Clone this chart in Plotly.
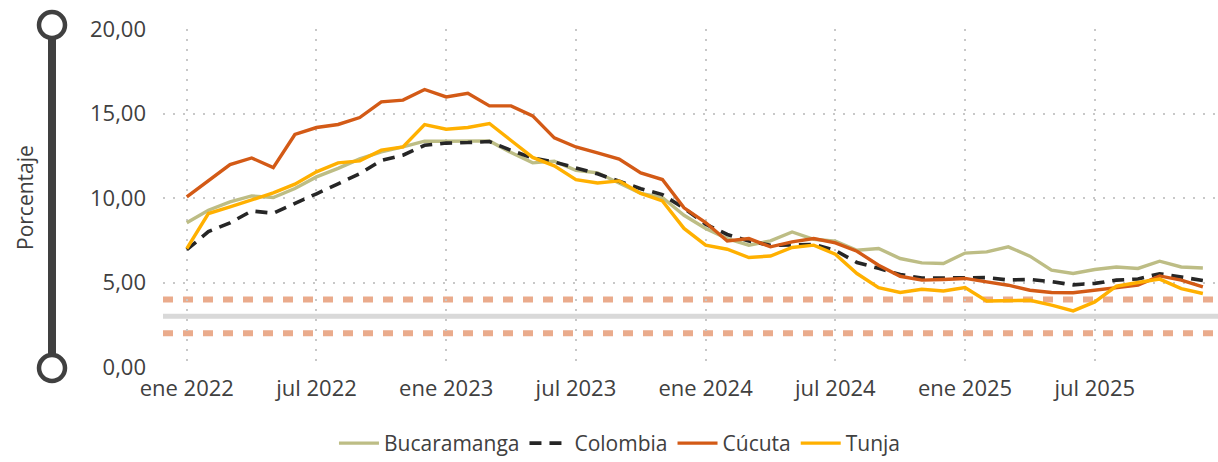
import plotly.graph_objects as go

# Inflación anual (%), mensual ene 2022 - dic 2025
meses = [
    "ene 2022", "feb 2022", "mar 2022", "abr 2022", "may 2022", "jun 2022",
    "jul 2022", "ago 2022", "sep 2022", "oct 2022", "nov 2022", "dic 2022",
    "ene 2023", "feb 2023", "mar 2023", "abr 2023", "may 2023", "jun 2023",
    "jul 2023", "ago 2023", "sep 2023", "oct 2023", "nov 2023", "dic 2023",
    "ene 2024", "feb 2024", "mar 2024", "abr 2024", "may 2024", "jun 2024",
    "jul 2024", "ago 2024", "sep 2024", "oct 2024", "nov 2024", "dic 2024",
    "ene 2025", "feb 2025", "mar 2025", "abr 2025", "may 2025", "jun 2025",
    "jul 2025", "ago 2025", "sep 2025", "oct 2025", "nov 2025", "dic 2025",
]

bucaramanga = [8.53, 9.28, 9.77, 10.12, 10.03, 10.56, 11.25, 11.75, 12.31, 12.73, 13.02, 13.36,
               13.36, 13.38, 13.38, 12.69, 12.08, 12.18, 11.64, 11.49, 10.86, 10.27, 10.03, 8.98,
               8.20, 7.60, 7.21, 7.46, 7.99, 7.56, 7.44, 6.91, 7.01, 6.42, 6.16, 6.12,
               6.74, 6.81, 7.11, 6.56, 5.73, 5.53, 5.77, 5.92, 5.83, 6.26, 5.92, 5.86]

colombia = [6.94, 8.01, 8.53, 9.23, 9.10, 9.70, 10.25, 10.84, 11.44, 12.22, 12.53, 13.12,
            13.25, 13.28, 13.34, 12.82, 12.36, 12.13, 11.78, 11.43, 10.99, 10.55, 10.20, 9.40,
            8.45, 7.84, 7.45, 7.20, 7.22, 7.25, 6.90, 6.18, 5.84, 5.47, 5.26, 5.25,
            5.28, 5.29, 5.15, 5.18, 5.05, 4.86, 4.95, 5.14, 5.21, 5.52, 5.33, 5.12]

cucuta = [10.07, 11.05, 11.98, 12.37, 11.80, 13.76, 14.17, 14.35, 14.76, 15.69, 15.79, 16.42,
          15.98, 16.20, 15.45, 15.45, 14.86, 13.56, 13.02, 12.67, 12.30, 11.49, 11.09, 9.42,
          8.55, 7.46, 7.60, 7.11, 7.40, 7.60, 7.34, 6.85, 6.02, 5.37, 5.14, 5.18,
          5.24, 5.04, 4.84, 4.54, 4.41, 4.39, 4.54, 4.74, 4.84, 5.39, 5.14, 4.74]

tunja = [7.01, 9.08, 9.47, 9.91, 10.30, 10.82, 11.55, 12.08, 12.20, 12.83, 13.02, 14.35,
         14.07, 14.17, 14.41, 13.40, 12.40, 11.90, 11.09, 10.89, 11.01, 10.27, 9.83, 8.20,
         7.21, 6.97, 6.48, 6.57, 7.07, 7.21, 6.67, 5.53, 4.70, 4.41, 4.60, 4.50,
         4.70, 3.91, 3.95, 3.95, 3.66, 3.32, 3.85, 4.78, 5.00, 5.20, 4.64, 4.35]

# Meta de inflación y su rango de tolerancia
meta = 3
rango_meta = [2, 4]

etiquetas_x = ["ene 2022", "jul 2022", "ene 2023", "jul 2023",
               "ene 2024", "jul 2024", "ene 2025", "jul 2025"]
valores_y = [0, 5, 10, 15, 20]

x = list(range(len(meses)))
ticks_x = [meses.index(m) for m in etiquetas_x]

TEXTO = "#404040"
FUENTE = "Open Sans"

series = [
    ("Bucaramanga", bucaramanga, dict(color="#BDBD85", width=3.4)),
    ("Colombia", colombia, dict(color="#262626", width=3.6, dash="12px,8px")),
    ("Cúcuta", cucuta, dict(color="#D35A16", width=3.4)),
    ("Tunja", tunja, dict(color="#FFB000", width=3.4)),
]

fig = go.Figure()
for nombre, valores, linea in series:
    fig.add_trace(go.Scatter(
        x=x, y=valores, name=nombre, mode="lines", line=linea,
        customdata=meses, hovertemplate="%{customdata}: %{y:.2f}<extra>" + nombre + "</extra>",
    ))

# Líneas de referencia (meta y rango)
for v in rango_meta:
    fig.add_shape(type="line", xref="paper", x0=0, x1=1, yref="y", y0=v, y1=v,
                  line=dict(color="#EAAB8C", width=6, dash="10px,10px"), layer="between")
fig.add_shape(type="line", xref="paper", x0=0, x1=1, yref="y", y0=meta, y1=meta,
              line=dict(color="#D9D9D9", width=5), layer="between")

# Barra decorativa del eje vertical (coordenadas de papel para no recortarla)
fig.add_shape(type="line", xref="paper", xsizemode="pixel", xanchor=0, x0=-111, x1=-111,
              yref="paper", y0=0, y1=1.01, line=dict(color=TEXTO, width=8), layer="above")
for yc, dy in [(1, 4), (0, -1)]:
    fig.add_shape(type="circle", xref="paper", xsizemode="pixel", xanchor=0,
                  x0=-124, x1=-98, yref="paper", ysizemode="pixel", yanchor=yc,
                  y0=-13 + dy, y1=13 + dy,
                  line=dict(color=TEXTO, width=4.5), fillcolor="white", layer="above")

fig.add_annotation(text="Porcentaje", xref="paper", x=0, xshift=-138, xanchor="center",
                   yref="paper", y=0.5, yanchor="middle", textangle=-90, showarrow=False,
                   font=dict(family=FUENTE, size=21, color=TEXTO))

fig.update_layout(
    width=1218, height=462,
    margin=dict(l=163, r=0, t=29, b=95),
    plot_bgcolor="white", paper_bgcolor="white",
    separators=",.",
    font=dict(family=FUENTE, size=22, color=TEXTO),
    showlegend=True,
    legend=dict(orientation="h", xref="container", yref="container",
                x=0.509, xanchor="center", y=0.04, yanchor="middle",
                font=dict(family=FUENTE, size=21, color=TEXTO),
                itemwidth=40, tracegroupgap=0),
    xaxis=dict(range=[-1.1, 47.7], tickmode="array", tickvals=ticks_x, ticktext=etiquetas_x,
               showgrid=True, gridcolor="#C8C8C8", gridwidth=1.5, griddash="2px,8px",
               zeroline=False, showline=False, ticks="", ticklabelstandoff=6),
    yaxis=dict(range=[0, 20], tickmode="array", tickvals=valores_y, tickformat=".2f",
               showgrid=True, gridcolor="#C8C8C8", gridwidth=1.5, griddash="2px,8px",
               zeroline=False, showline=False, ticks="", ticklabelstandoff=16),
)

fig.write_html("out.html")
